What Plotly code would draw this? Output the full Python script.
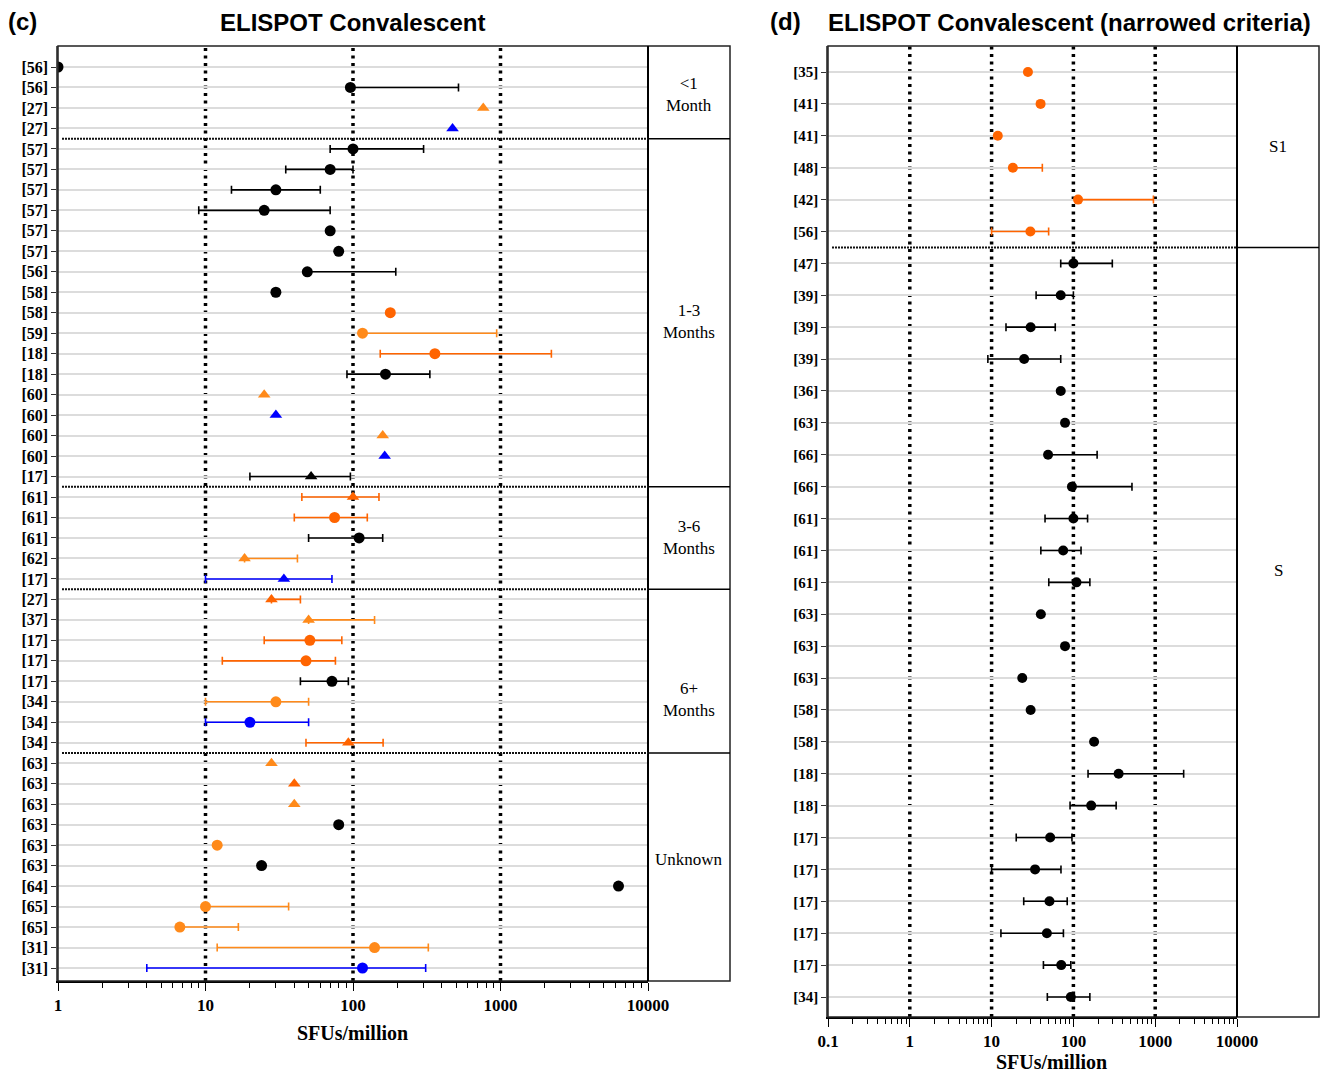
import plotly.graph_objects as go

# ---------------- Data: panel (c) ----------------
labels_c = ["[56]", "[56]", "[27]", "[27]",
            "[57]", "[57]", "[57]", "[57]", "[57]", "[57]", "[56]", "[58]", "[58]", "[59]", "[18]", "[18]",
            "[60]", "[60]", "[60]", "[60]", "[17]",
            "[61]", "[61]", "[61]", "[62]", "[17]",
            "[27]", "[37]", "[17]", "[17]", "[17]", "[34]", "[34]", "[34]",
            "[63]", "[63]", "[63]", "[63]", "[63]", "[63]", "[64]", "[65]", "[65]", "[31]", "[31]"]
values_c = [1, 96, 764, 473,
            100, 70, 30, 25, 70, 80, 49, 30, 179, 116, 359, 166,
            25, 30, 159, 164, 52,
            100, 75, 110, 18.4, 34,
            28, 50, 51, 48, 72, 30, 20, 93,
            28, 40, 40, 80, 12, 24, 6310, 10, 6.7, 140, 116]
lower_c = [None, None, None, None,
           70, 35, 15, 9, None, None, None, None, None, None, 153, 91,
           None, None, None, None, 20,
           45, 40, 50, None, 10,
           None, None, 25, 13, 44, 10, 10, 48,
           None, None, None, None, None, None, None, None, None, 12, 4]
upper_c = [None, 519, None, None,
           301, 100, 60, 70, None, None, 195, None, None, 942, 2213, 332,
           None, None, None, None, 96,
           150, 125, 159, 42, 72,
           44, 140, 84, 76, 93, 50, 50, 160,
           None, None, None, None, None, None, None, 36.6, 16.7, 324, 311]
colors_c = ["k", "k", "B", "b",
            "k", "k", "k", "k", "k", "k", "k", "k", "A", "B", "A", "k",
            "B", "b", "B", "b", "k",
            "A", "A", "k", "B", "b",
            "A", "B", "A", "A", "k", "B", "b", "A",
            "B", "A", "B", "k", "B", "k", "k", "B", "B", "B", "b"]
symbols_c = ["o", "o", "^", "^",
             "o", "o", "o", "o", "o", "o", "o", "o", "o", "o", "o", "o",
             "^", "^", "^", "^", "^",
             "^", "o", "o", "^", "^",
             "^", "^", "o", "o", "o", "o", "o", "^",
             "^", "^", "^", "o", "o", "o", "o", "o", "o", "o", "o"]
groups_c = ["<1<br>Month", "1-3<br>Months", "3-6<br>Months", "6+<br>Months", "Unknown"]
group_sizes_c = [4, 17, 5, 8, 11]

# ---------------- Data: panel (d) ----------------
labels_d = ["[35]", "[41]", "[41]", "[48]", "[42]", "[56]",
            "[47]", "[39]", "[39]", "[39]", "[36]", "[63]", "[66]", "[66]", "[61]", "[61]", "[61]",
            "[63]", "[63]", "[63]", "[58]", "[58]", "[18]", "[18]", "[17]", "[17]", "[17]", "[17]",
            "[17]", "[34]"]
values_d = [27.8, 39.7, 11.9, 18.2, 114, 29.8,
            100, 70, 30, 25, 70, 79, 49, 96, 100, 75, 109,
            40, 79, 23.7, 30, 179, 357, 165, 52, 34, 51, 47.4,
            71, 93]
lower_d = [None, None, None, None, None, 10,
           70, 35, 15, 9, None, None, None, None, 45, 40, 50,
           None, None, None, None, None, 151, 91, 20, 10, 24.7, 13,
           43, 48]
upper_d = [None, None, None, 41.7, 951, 49.8,
           299, 100, 60, 70, None, None, 195, 520, 149, 124, 159,
           None, None, None, None, None, 2228, 333, 96, 70.5, 84, 75.5,
           93, 159]
colors_d = ["A"] * 6 + ["k"] * 24
groups_d = ["S1", "S"]
group_sizes_d = [6, 24]

ticks_c = [1, 10, 100, 1000, 10000]
ticks_d = [0.1, 1, 10, 100, 1000, 10000]
refs_c = [10, 100, 1000]
refs_d = [1, 10, 100, 1000]

# ---------------- Styling / layout ----------------
W, H = 1320, 1073
PALETTE = {"k": "#000000", "b": "#0000FF", "A": "#FF6400", "B": "#FF8A1A"}
SYMBOL = {"o": "circle", "^": "triangle-up"}
SERIF = "Liberation Serif"
SANS = "Liberation Sans"

def px(x):
    return x / W

def py(y):
    return 1 - y / H

# panel geometry in pixels: plot-left, plot-right, box-right, top, bottom
PC = dict(l=58, r=648, box=730, t=46, b=981, first=67, last=968)
PD = dict(l=828, r=1237, box=1319, t=46, b=1017, first=72, last=997)

# label positions (pixel y) inside right-hand boxes
label_y_c = [95, 322, 537, 699, 859]
label_y_d = [147, 570]

fig = go.Figure()
shapes = []
annotations = []


def minor_vals(lo_exp, hi_exp):
    out = []
    for e in range(lo_exp, hi_exp):
        for m in range(2, 10):
            out.append(m * 10 ** e)
    return out


def add_panel(xa, ya, P, labels, values, lower, upper, colors, symbols, msize, lab_size,
              ticks, refs, group_names, group_sizes, label_ys, log_range):
    n = len(labels)
    step = (P["last"] - P["first"]) / (n - 1)
    top_pad = (P["first"] - P["t"]) / step
    bot_pad = (P["b"] - P["last"]) / step
    xref = "x" if xa == "xaxis" else "x2"
    yref = "y" if ya == "yaxis" else "y2"
    for i in range(n):
        v = values[i]
        lo = lower[i] if lower[i] is not None else v
        hi = upper[i] if upper[i] is not None else v
        col = PALETTE[colors[i]]
        has_err = lower[i] is not None or upper[i] is not None
        fig.add_trace(go.Scatter(
            x=[v], y=[i], xaxis=xref, yaxis=yref, mode="markers",
            marker=dict(color=col, size=msize, symbol=SYMBOL[symbols[i]], line=dict(width=0)),
            error_x=dict(type="data", symmetric=False, array=[hi - v], arrayminus=[v - lo],
                         color=col, thickness=1.6, width=4, visible=has_err),
            showlegend=False, hoverinfo="x+y"))
    fig.layout[xa] = dict(
        type="log", range=log_range, domain=[px(P["l"]), px(P["r"])], anchor=yref,
        automargin=False,
        tickvals=ticks, ticktext=[("%g" % t) for t in ticks],
        ticks="outside", ticklen=8, tickwidth=1.2, tickcolor="black",
        tickfont=dict(family=SERIF, size=17, color="black", weight="bold"),
        showgrid=False, zeroline=False, showline=True, linecolor="black", linewidth=1.5,
        minor=dict(tickvals=minor_vals(int(log_range[0]), int(log_range[1])), ticks="outside",
                   ticklen=5, tickwidth=1, tickcolor="black", showgrid=False),
        fixedrange=True)
    fig.layout[ya] = dict(
        range=[n - 1 + bot_pad, -top_pad], domain=[py(P["b"]), py(P["t"])], anchor=xref,
        automargin=False,
        tickvals=list(range(n)), ticktext=labels, ticks="outside", ticklen=5,
        tickcolor="#333", tickwidth=1,
        tickfont=dict(family=SERIF, size=lab_size, color="black", weight="bold"),
        showgrid=True, gridcolor="#dcdcdc", gridwidth=1.6, zeroline=False,
        showline=True, linecolor="#555", linewidth=1.5, fixedrange=True)
    # reference dotted lines
    for r in refs:
        shapes.append(dict(type="line", xref=xref, yref="paper", x0=r, x1=r,
                           y0=py(P["b"]), y1=py(P["t"]), layer="between",
                           line=dict(color="black", width=3.5, dash="3px,4.5px")))
    # frame and box
    shapes.append(dict(type="rect", xref="paper", yref="paper", x0=px(P["l"]), x1=px(P["box"]),
                       y0=py(P["b"]), y1=py(P["t"]), line=dict(color="#222", width=1.5)))
    shapes.append(dict(type="line", xref="paper", yref="paper", x0=px(P["r"]), x1=px(P["r"]),
                       y0=py(P["b"]), y1=py(P["t"]), line=dict(color="black", width=2)))
    # group separators
    idx = 0
    for g in group_sizes[:-1]:
        idx += g
        ysep = idx - 0.5
        shapes.append(dict(type="line", xref="paper", yref=yref, x0=px(P["l"] + 4), x1=px(P["r"]),
                           y0=ysep, y1=ysep, layer="above",
                           line=dict(color="#111", width=2, dash="2px,1px")))
        shapes.append(dict(type="line", xref="paper", yref=yref, x0=px(P["r"]), x1=px(P["box"]),
                           y0=ysep, y1=ysep, line=dict(color="black", width=1.5)))
    for name, ly in zip(group_names, label_ys):
        annotations.append(dict(text=name, xref="paper", yref="paper",
                                x=px((P["r"] + P["box"]) / 2), y=py(ly), showarrow=False,
                                font=dict(family=SERIF, size=17, color="black"),
                                xanchor="center", yanchor="middle", align="center"))


add_panel("xaxis", "yaxis", PC, labels_c, values_c, lower_c, upper_c, colors_c, symbols_c, 11, 16,
          ticks_c, refs_c, groups_c, group_sizes_c, label_y_c, [0, 4])
add_panel("xaxis2", "yaxis2", PD, labels_d, values_d, lower_d, upper_d, colors_d, ["o"] * 30, 10, 15,
          ticks_d, refs_d, groups_d, group_sizes_d, label_y_d, [-1, 4])

# titles and axis titles
annotations += [
    dict(text="<b>(c)</b>", x=px(6), y=py(21), xanchor="left", yanchor="middle",
         font=dict(family=SANS, size=24, color="black")),
    dict(text="<b>ELISPOT Convalescent</b>", x=px(353), y=py(22), xanchor="center", yanchor="middle",
         font=dict(family=SANS, size=24, color="black")),
    dict(text="<b>(d)</b>", x=px(768), y=py(21), xanchor="left", yanchor="middle",
         font=dict(family=SANS, size=24, color="black")),
    dict(text="<b>ELISPOT Convalescent (narrowed criteria)</b>", x=px(1069), y=py(22),
         xanchor="center", yanchor="middle", font=dict(family=SANS, size=24, color="black")),
    dict(text="<b>SFUs/million</b>", x=px(353), y=py(1033), xanchor="center", yanchor="middle",
         font=dict(family=SERIF, size=20, color="black")),
    dict(text="<b>SFUs/million</b>", x=px(1051), y=py(1062), xanchor="center", yanchor="middle",
         font=dict(family=SERIF, size=20, color="black")),
]
for a in annotations:
    a.setdefault("xref", "paper")
    a.setdefault("yref", "paper")
    a["showarrow"] = False

fig.update_layout(width=W, height=H, margin=dict(l=0, r=0, t=0, b=0, autoexpand=False),
                  template="none",
                  paper_bgcolor="white", plot_bgcolor="white",
                  shapes=shapes, annotations=annotations, showlegend=False)

fig.write_html("out.html")
